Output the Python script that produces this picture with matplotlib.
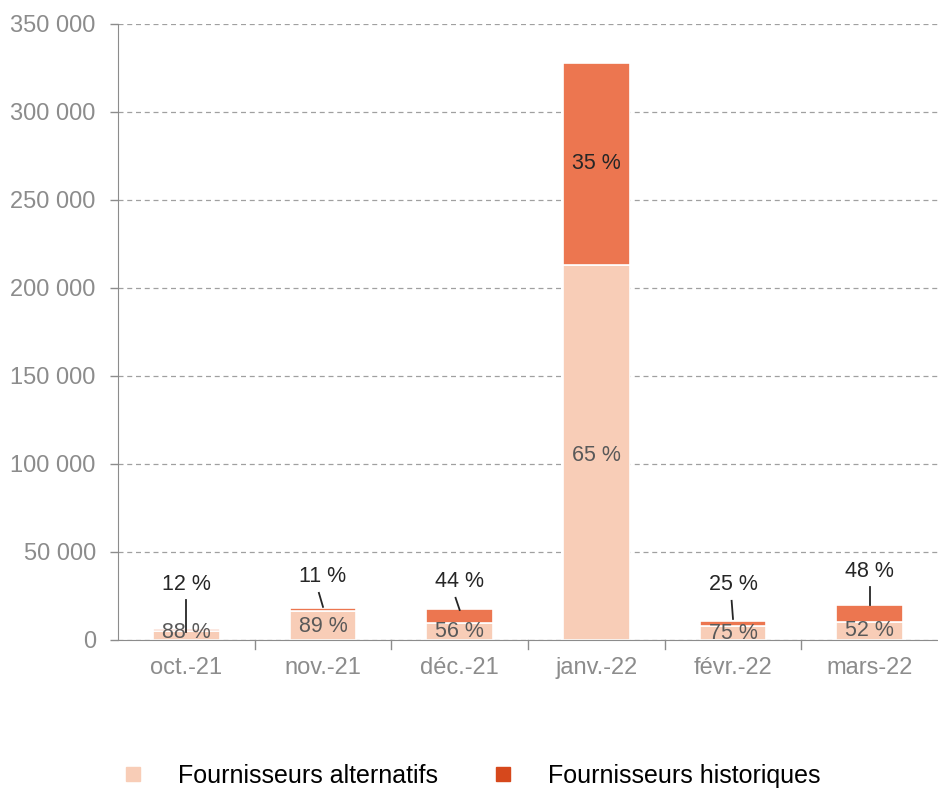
import numpy as np
import matplotlib.pyplot as plt
import matplotlib as mpl
from matplotlib.lines import Line2D

mpl.rcParams['font.family'] = ['Liberation Sans', 'DejaVu Sans']

# data
months = ["oct.-21", "nov.-21", "déc.-21", "janv.-22", "févr.-22", "mars-22"]
alternatifs = [5300, 16200, 9850, 213000, 8100, 10300]
historiques = [700, 2000, 7750, 115000, 2700, 9500]
pct_alt = ["88 %", "89 %", "56 %", "65 %", "75 %", "52 %"]
pct_hist = ["12 %", "11 %", "44 %", "35 %", "25 %", "48 %"]

c_alt = "#F8CDB7"
c_hist = "#EC7650"
c_hist_leg = "#D6481C"
grey = "#8C8C8C"

fig = plt.figure(figsize=(9.38, 7.89), dpi=100)
ax = fig.add_axes([0.1258, 0.189, 0.8742, 0.7806])

x = np.arange(len(months))
alt = np.array(alternatifs)
hist = np.array(historiques)
ax.bar(x, alt, width=0.49, color=c_alt, edgecolor="white", linewidth=1.2, zorder=2)
ax.bar(x, hist, width=0.49, bottom=alt, color=c_hist, edgecolor="white", linewidth=1.2, zorder=2)

ax.set_ylim(0, 350000)
ax.set_xlim(-0.5, len(months) - 0.5)
yt = np.arange(0, 350001, 50000)
ax.set_yticks(yt)
ax.set_yticklabels(["{:,}".format(v).replace(",", " ") for v in yt])
ax.yaxis.grid(True, linestyle=(0, (4, 3)), color="#A0A0A0", linewidth=0.9, zorder=0)
ax.set_axisbelow(True)

for s in ["top", "right"]:
    ax.spines[s].set_visible(False)
ax.spines["left"].set_color(grey)
ax.spines["bottom"].set_color(grey)
ax.tick_params(axis="y", colors=grey, labelsize=17, length=6, width=1, pad=10)
ax.tick_params(axis="x", length=0, labelsize=17, labelcolor=grey, pad=12)
ax.set_xticks(x)
ax.set_xticklabels(months)
# category separators on x axis
for b in np.arange(0.5, len(months) - 0.5, 1):
    ax.plot([b, b], [0, -0.014], transform=ax.get_xaxis_transform(), color=grey, lw=1, clip_on=False)

# labels (positions in data units)
alt_label_y = [4000, 7400, 4500, None, 3400, 5100]
hist_label_y = [31250, 35800, 33000, None, 31250, 38600]
line_top = [22700, 26700, 23900, None, 22200, 30100]
line_bot = [4500, 18750, 17000, None, 11900, 19900]
line_dx = [0, -0.03, -0.03, 0, -0.01, 0]

for i in range(len(months)):
    if alt_label_y[i] is None:
        ax.text(x[i], alt[i] / 2 - 1500, pct_alt[i], ha="center", va="center", fontsize=15.5, color="#595959", zorder=4)
        ax.text(x[i], alt[i] + hist[i] / 2, pct_hist[i], ha="center", va="center", fontsize=15.5, color="#262626", zorder=4)
    else:
        ax.text(x[i], alt_label_y[i], pct_alt[i], ha="center", va="center", fontsize=15.5, color="#595959", zorder=4)
        ax.text(x[i], hist_label_y[i], pct_hist[i], ha="center", va="center", fontsize=15.5, color="#262626", zorder=4)
        ax.plot([x[i] + line_dx[i], x[i]], [line_top[i], line_bot[i]], color="#262626", lw=1.3, zorder=5)

handles = [Line2D([], [], marker="s", ls="none", color=c_alt, markersize=10),
           Line2D([], [], marker="s", ls="none", color=c_hist_leg, markersize=10)]
fig.legend(handles, ["Fournisseurs alternatifs", "Fournisseurs historiques"], loc="center",
           bbox_to_anchor=(0.502, 0.0165), ncol=2, frameon=False, fontsize=18,
           handlelength=1, handletextpad=1.3, columnspacing=2.1, borderpad=0)

fig.savefig("out.png", dpi=100)
